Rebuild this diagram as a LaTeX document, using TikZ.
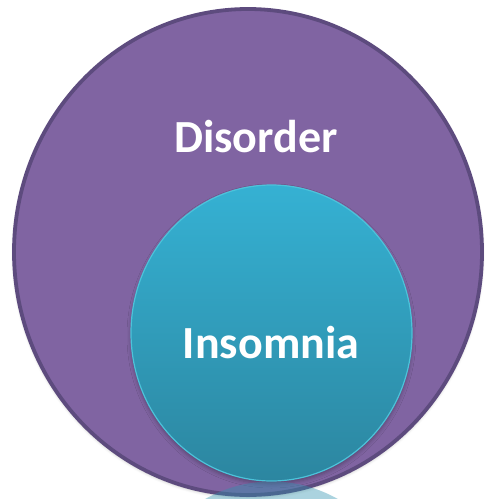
\documentclass[tikz,border=0pt]{standalone}
\usepackage{fontspec}
\setmainfont{Carlito}
\usetikzlibrary{shadows.blur}
\definecolor{purplefill}{HTML}{8064A2}
\definecolor{purpleedge}{HTML}{5D4B7E}
\definecolor{tealtop}{HTML}{35B1D3}
\definecolor{tealbot}{HTML}{2C86A0}
\definecolor{tealedge}{HTML}{4CC3DA}
\definecolor{reflect}{HTML}{2E92AE}
\tikzset{
  outerdisc/.style={fill=purplefill, draw=purpleedge, line width=3.8pt},
  innerdisc/.style={top color=tealtop, bottom color=tealbot, draw=tealedge, line width=1.2pt},
  label/.style={text=white, font=\bfseries\fontsize{46}{50}\selectfont, anchor=base, inner sep=0pt}
}
\begin{document}
\begin{tikzpicture}[x=1pt,y=-1pt]
\useasboundingbox (0,0) rectangle (486,499);
\begin{scope}
\clip (0,0) rectangle (486,499);
% outer disc
\path[outerdisc, blur shadow={shadow xshift=0pt, shadow yshift=-2pt, shadow blur radius=3pt, shadow opacity=25}]
  (248,252) ellipse [x radius=234, y radius=243];
% inner disc
\path[innerdisc, blur shadow={shadow xshift=0pt, shadow yshift=-3pt, shadow blur radius=4pt, shadow opacity=30}]
  (271.5,333) ellipse [x radius=140.5, y radius=148];
% reflection
\fill[reflect, opacity=0.4] (271.5,629.5) ellipse [x radius=140.5, y radius=148];
\end{scope}
\node[label] (disorder) at (256,152) {Disorder};
\node[label] (insomnia) at (271,358) {Insomnia};
\end{tikzpicture}
\end{document}
